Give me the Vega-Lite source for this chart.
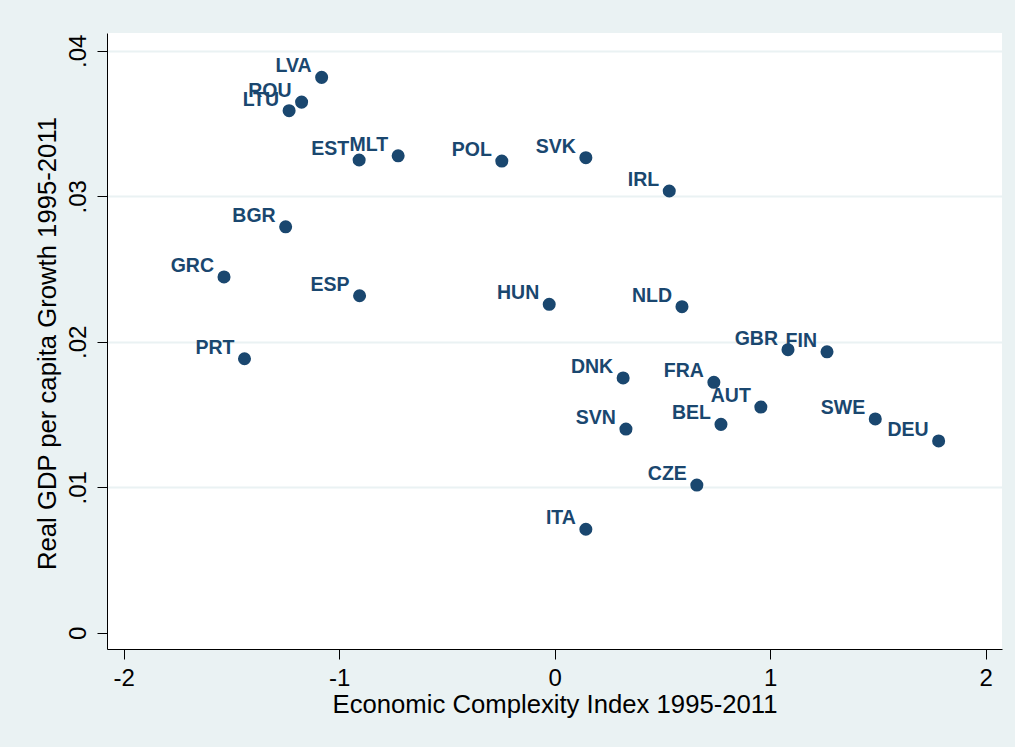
{
  "$schema": "https://vega.github.io/schema/vega-lite/v6.json",
  "width": 895,
  "height": 616,
  "autosize": {"type": "none"},
  "padding": {"left": 107, "top": 33, "right": 13, "bottom": 98},
  "background": "#eaf2f3",
  "config": {"view": {"fill": "white", "stroke": null}, "font": "Liberation Sans"},
  "data": {"values": [
    {"country": "LVA", "eci": -1.081, "growth": 0.03817},
    {"country": "ROU", "eci": -1.174, "growth": 0.03647},
    {"country": "LTU", "eci": -1.232, "growth": 0.03588},
    {"country": "EST", "eci": -0.907, "growth": 0.03249},
    {"country": "MLT", "eci": -0.726, "growth": 0.03278},
    {"country": "POL", "eci": -0.245, "growth": 0.03242},
    {"country": "SVK", "eci": 0.145, "growth": 0.03265},
    {"country": "IRL", "eci": 0.532, "growth": 0.03036},
    {"country": "BGR", "eci": -1.248, "growth": 0.0279},
    {"country": "GRC", "eci": -1.534, "growth": 0.02445},
    {"country": "ESP", "eci": -0.905, "growth": 0.02316},
    {"country": "HUN", "eci": -0.025, "growth": 0.02257},
    {"country": "NLD", "eci": 0.591, "growth": 0.02241},
    {"country": "PRT", "eci": -1.439, "growth": 0.01883},
    {"country": "GBR", "eci": 1.083, "growth": 0.01945},
    {"country": "FIN", "eci": 1.264, "growth": 0.01931},
    {"country": "DNK", "eci": 0.318, "growth": 0.01751},
    {"country": "FRA", "eci": 0.739, "growth": 0.01721},
    {"country": "AUT", "eci": 0.957, "growth": 0.01551},
    {"country": "SWE", "eci": 1.488, "growth": 0.01469},
    {"country": "BEL", "eci": 0.772, "growth": 0.01432},
    {"country": "SVN", "eci": 0.331, "growth": 0.014},
    {"country": "DEU", "eci": 1.782, "growth": 0.01318},
    {"country": "CZE", "eci": 0.66, "growth": 0.01015},
    {"country": "ITA", "eci": 0.145, "growth": 0.00711}
  ]},
  "encoding": {
    "x": {
      "field": "eci", "type": "quantitative",
      "scale": {"domain": [-2.077, 2.076], "nice": false, "zero": false},
      "axis": {
        "values": [-2, -1, 0, 1, 2],
        "labelExpr": "'' + datum.value",
        "title": "Economic Complexity Index 1995-2011",
        "grid": false,
        "domainColor": "#000000",
        "domainWidth": 1,
        "tickColor": "#000000",
        "tickSize": 10,
        "labelFontSize": 24,
        "labelColor": "#000000",
        "labelPadding": 7,
        "labelFlush": false,
        "labelOverlap": false,
        "titleFontSize": 25.7,
        "titleFontWeight": "normal",
        "titleColor": "#000000",
        "titleBaseline": "alphabetic",
        "titleY": 63
      }
    },
    "y": {
      "field": "growth", "type": "quantitative",
      "scale": {"domain": [-0.00112, 0.04122], "nice": false, "zero": false},
      "axis": {
        "values": [0, 0.01, 0.02, 0.03, 0.04],
        "labelExpr": "datum.value == 0 ? '0' : substring(format(datum.value, '.2f'), 1)",
        "title": "Real GDP per capita Growth 1995-2011",
        "grid": true,
        "gridColor": "#eaf2f3",
        "gridWidth": 2,
        "gridOpacity": {"condition": {"test": "datum.value == 0", "value": 0}, "value": 1},
        "domainColor": "#000000",
        "domainWidth": 1,
        "tickColor": "#000000",
        "tickSize": 10,
        "labelFontSize": 24,
        "labelColor": "#000000",
        "labelAngle": -90,
        "labelAlign": "center",
        "labelBaseline": "alphabetic",
        "labelPadding": 12,
        "labelFlush": false,
        "labelOverlap": false,
        "titleFontSize": 25.7,
        "titleFontWeight": "normal",
        "titleColor": "#000000",
        "titleAngle": -90,
        "titleAlign": "center",
        "titleBaseline": "alphabetic",
        "titleX": -52,
        "titleY": 310
      }
    }
  },
  "layer": [
    {"mark": {"type": "point", "shape": "circle", "filled": true, "size": 170, "color": "#1a476f", "opacity": 1}},
    {"mark": {"type": "text", "align": "right", "baseline": "alphabetic", "dx": -10, "dy": -5, "fontSize": 19.5, "fontWeight": "bold", "color": "#1a476f"},
     "encoding": {"text": {"field": "country"}}}
  ]
}
